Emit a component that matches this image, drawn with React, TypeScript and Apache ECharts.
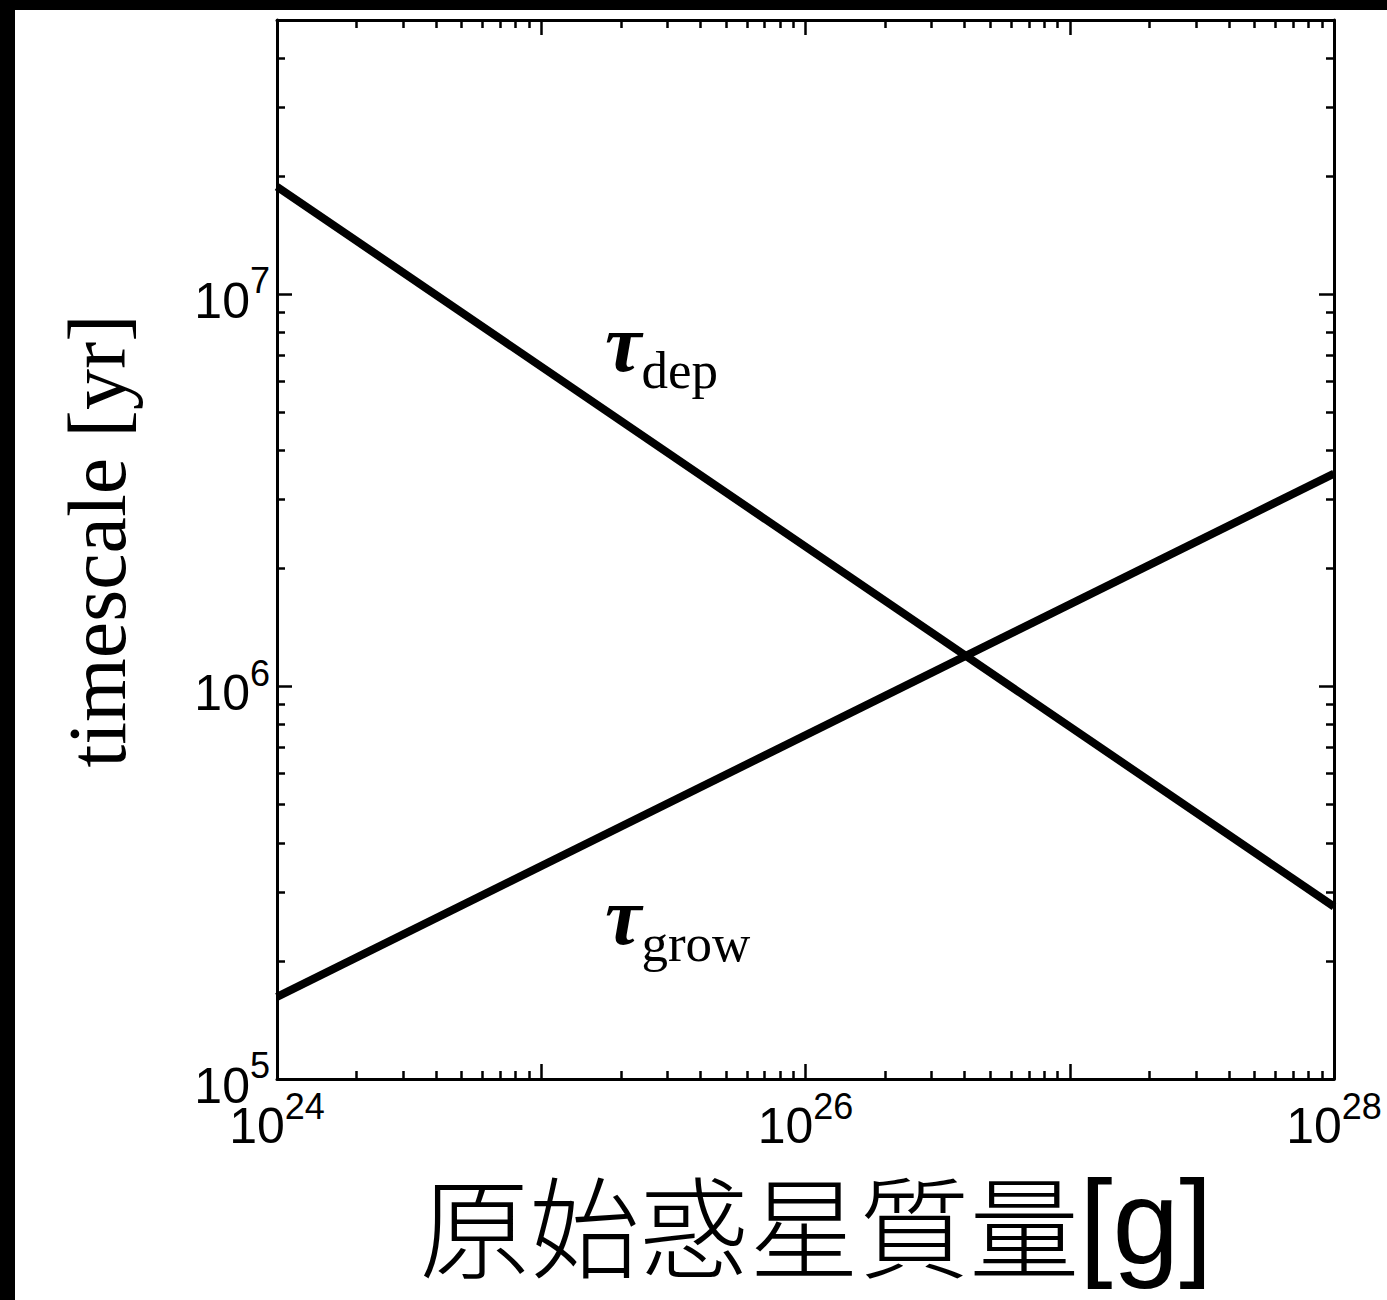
import React, { useEffect, useRef } from "react";
import * as echarts from "echarts";

// ---- data ----
const massRange = [1e24, 1e28]; // x extent [g]
const timeRange = [1e5, 5e7]; // y extent [yr]
const massPoints = [1e24, 1e28];
const tauDep = [1.88e7, 2.75e5]; // depletion timescale [yr]
const tauGrow = [1.62e5, 3.49e6]; // growth timescale [yr]
const xMajorExp = [24, 25, 26, 27, 28];
const xLabelExp = [24, 26, 28];
const yMajorExp = [5, 6, 7];
const yLabelExp = [5, 6, 7];
const minorMultipliers = [2, 3, 4, 5, 6, 7, 8, 9];
const xTitle = ["原始惑星質量", "[g]"];
const yTitle = "timescale [yr]";
const depLabel = ["τ", "dep"];
const growLabel = ["τ", "grow"];

const lg = Math.log10;

function minorTicks(minVal: number, maxVal: number): number[] {
  const out: number[] = [];
  const lo = Math.floor(lg(minVal));
  const hi = Math.ceil(lg(maxVal));
  for (let n = lo; n < hi; n++) {
    for (const k of minorMultipliers) {
      const v = k * Math.pow(10, n);
      if (v > minVal && v < maxVal * 1.0001) out.push(lg(v));
    }
  }
  return out;
}

export default function App() {
  const ref = useRef<HTMLDivElement>(null);
  useEffect(() => {
    document.body.style.margin = "0";
    const chart = echarts.init(ref.current!, null, { renderer: "svg" });
    const xMin = lg(massRange[0]);
    const xMax = lg(massRange[1]);
    const yMin = lg(timeRange[0]);
    const yMax = lg(timeRange[1]);
    const xMinor = minorTicks(massRange[0], massRange[1]);
    const yMinor = minorTicks(timeRange[0], timeRange[1]);

    const sans = "Liberation Sans, Arial, Helvetica, sans-serif";
    const serif = "Liberation Serif, Times New Roman, Times, serif";
    const cjk = "Noto Sans CJK JP, Noto Sans CJK SC, sans-serif";
    const rich = {
      b: { fontSize: 50, lineHeight: 50, fontFamily: sans, color: "#000" },
      s: { fontSize: 36, lineHeight: 50, fontFamily: sans, color: "#000", padding: [0, 0, 40, 0] },
    };
    const fmt = (v: number) => `{b|10}{s|${Math.round(v)}}`;

    const mkAxis = (
      kind: "x" | "y",
      position: string,
      ticks: number[],
      len: number,
      showLine: boolean,
      labels?: number[]
    ) => ({
      type: "value",
      position,
      offset: 0,
      min: kind === "x" ? xMin : yMin,
      max: kind === "x" ? xMax : yMax,
      axisLine: { show: showLine, onZero: false, lineStyle: { color: "#000", width: 3 } },
      axisTick: {
        show: true,
        inside: true,
        length: len,
        customValues: ticks,
        lineStyle: { color: "#000", width: 2.5 },
      },
      axisLabel: labels
        ? {
            show: true,
            customValues: labels,
            margin: kind === "x" ? 22 : 7,
            padding: kind === "x" ? 0 : [13, 0, 0, 0],
            formatter: fmt,
            rich,
          }
        : { show: false },
      splitLine: { show: false },
      minorTick: { show: false },
    });

    const option: any = {
      animation: false,
      backgroundColor: "#fff",
      grid: { left: 277, right: 53, top: 20, bottom: 221, outerBoundsMode: "none", containLabel: false },
      xAxis: [
        mkAxis("x", "bottom", xMajorExp, 15, true, xLabelExp),
        mkAxis("x", "bottom", xMinor, 8, false),
        mkAxis("x", "top", xMajorExp, 15, true),
        mkAxis("x", "top", xMinor, 8, false),
      ],
      yAxis: [
        mkAxis("y", "left", yMajorExp, 15, true, yLabelExp),
        mkAxis("y", "left", yMinor, 8, false),
        mkAxis("y", "right", yMajorExp, 15, true),
        mkAxis("y", "right", yMinor, 8, false),
      ],
      series: [
        {
          type: "line",
          xAxisIndex: 0,
          yAxisIndex: 0,
          data: massPoints.map((m, i) => [lg(m), lg(tauDep[i])]),
          showSymbol: false,
          symbol: "none",
          silent: true,
          lineStyle: { color: "#000", width: 8 },
        },
        {
          type: "line",
          xAxisIndex: 0,
          yAxisIndex: 0,
          data: massPoints.map((m, i) => [lg(m), lg(tauGrow[i])]),
          showSymbol: false,
          symbol: "none",
          silent: true,
          lineStyle: { color: "#000", width: 8 },
        },
      ],
      graphic: [
        { type: "rect", shape: { x: 0, y: 0, width: 1387, height: 10 }, style: { fill: "#000" } },
        { type: "rect", shape: { x: 0, y: 0, width: 15, height: 1300 }, style: { fill: "#000" } },
        {
          type: "text",
          x: 97,
          y: 541,
          rotation: Math.PI / 2,
          style: {
            text: yTitle,
            fontSize: 82,
            fontFamily: serif,
            fill: "#000",
            align: "center",
            verticalAlign: "middle",
          },
        },
        {
          type: "text",
          x: 816,
          y: 1222,
          style: {
            text: `{c|${xTitle[0]}}{l|${xTitle[1]}}`,
            align: "center",
            verticalAlign: "middle",
            rich: {
              c: { fontSize: 110, fontWeight: 300, lineHeight: 110, fontFamily: cjk, fill: "#000" },
              l: { fontSize: 120, fontWeight: 300, lineHeight: 110, fontFamily: sans, fill: "#000" },
            },
          },
        },
        ...[
          { lab: depLabel, x: 605, y: 343 },
          { lab: growLabel, x: 605, y: 916 },
        ].map((o) => ({
          type: "text",
          x: o.x,
          y: o.y,
          style: {
            text: `{t|${o.lab[0]}}{s|${o.lab[1]}}`,
            align: "left",
            verticalAlign: "middle",
            rich: {
              t: {
                fontSize: 82,
                fontStyle: "italic",
                fontWeight: "bold",
                fontFamily: serif,
                lineHeight: 80,
                fill: "#000",
              },
              s: { fontSize: 53, fontFamily: serif, lineHeight: 80, padding: [54, 0, 0, 0], fill: "#000" },
            },
          },
        })),
      ],
    };
    chart.setOption(option);
    return () => chart.dispose();
  }, []);
  return <div ref={ref} style={{ width: 1387, height: 1300 }} />;
}
